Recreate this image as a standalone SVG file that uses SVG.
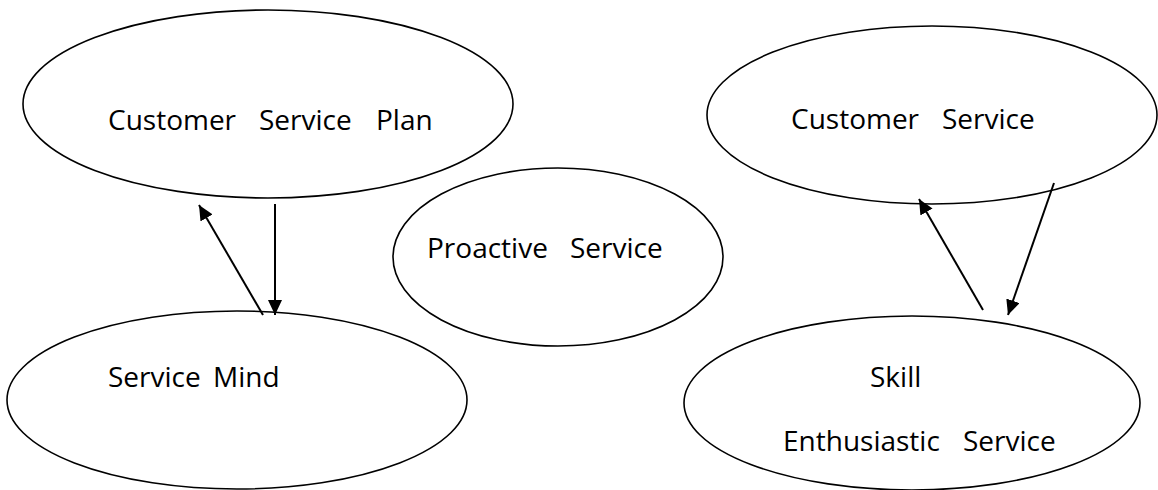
<svg xmlns="http://www.w3.org/2000/svg" width="1158" height="490" viewBox="0 0 1158 490">
<style>
.node ellipse{fill:#fff;stroke:#000;stroke-width:1.6}
.node text{font-family:"Open Sans","Noto Sans",sans-serif;font-size:28px;fill:#000}
.conn line{stroke:#000;stroke-width:2;marker-end:url(#arrow)}
</style>
<defs>
<marker id="arrow" markerUnits="userSpaceOnUse" markerWidth="16" markerHeight="14" refX="15" refY="7" orient="auto">
<path d="M0,0 L15,7 L0,14 z" fill="#000"/>
</marker>
</defs>
<rect width="1158" height="490" fill="#fff"/>
<g id="customer-service-plan" class="node">
<ellipse cx="268" cy="104" rx="245" ry="94"/>
<text y="130"><tspan x="108">Customer</tspan><tspan x="259">Service</tspan><tspan x="376">Plan</tspan></text>
</g>
<g id="customer-service" class="node">
<ellipse cx="932" cy="115" rx="225" ry="89"/>
<text y="129"><tspan x="791">Customer</tspan><tspan x="942">Service</tspan></text>
</g>
<g id="proactive-service" class="node">
<ellipse cx="558" cy="257" rx="165" ry="89"/>
<text y="258"><tspan x="427">Proactive</tspan><tspan x="570">Service</tspan></text>
</g>
<g id="service-mind" class="node">
<ellipse cx="237" cy="400" rx="230" ry="89"/>
<text y="387"><tspan x="108">Service</tspan><tspan x="213">Mind</tspan></text>
</g>
<g id="skill" class="node">
<ellipse cx="912" cy="403" rx="228" ry="87"/>
<text x="870" y="387">Skill</text>
<text y="451"><tspan x="783">Enthusiastic</tspan><tspan x="963">Service</tspan></text>
</g>
<g id="connectors" class="conn">
<line x1="263" y1="315" x2="199" y2="205"/>
<line x1="275" y1="204" x2="275" y2="315"/>
<line x1="983" y1="310" x2="919" y2="199"/>
<line x1="1054" y1="183" x2="1008" y2="315"/>
</g>
</svg>
